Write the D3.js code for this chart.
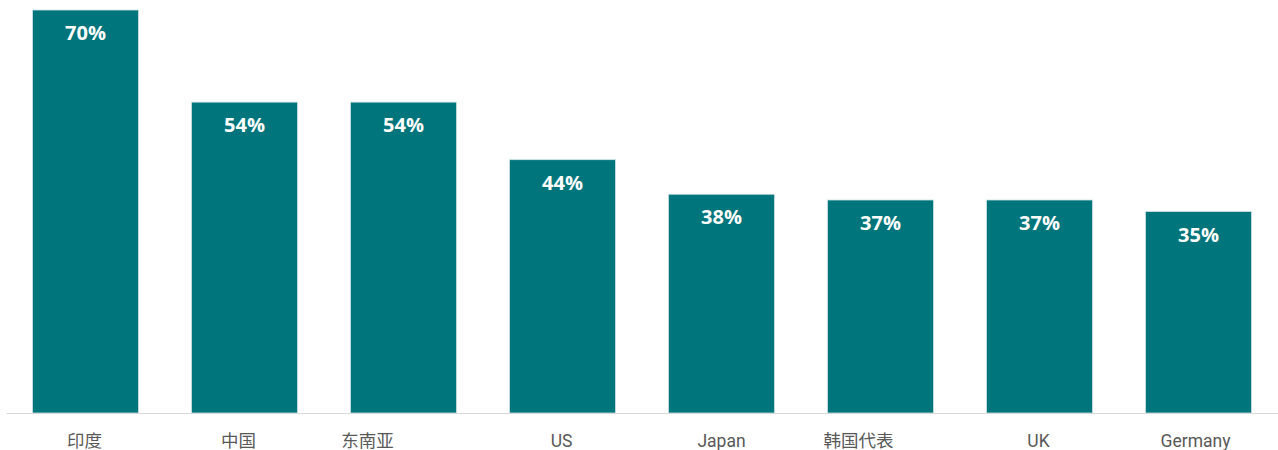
<!DOCTYPE html>
<html>
<head>
<meta charset="utf-8">
<script src="https://cdn.jsdelivr.net/npm/d3@7"></script>
<style>
    html, body { margin: 0; padding: 0; background: #fff; }
    svg { display: block; }
</style>
</head>
<body>
<svg id="svg"></svg>
<script>
// chart data
const categories = ['印度', '中国', '东南亚', 'US', 'Japan', '韩国代表', 'UK', 'Germany'];
const shares = [70, 54, 54, 44, 38, 37, 37, 35];
const valueLabels = ['70%', '54%', '54%', '44%', '38%', '37%', '37%', '35%'];

const width = 1278,
    height = 450;

// the category labels are not quite centred in the original
const labelNudge = { '印度': -1, '中国': -6, '东南亚': -36, 'US': -1, 'Japan': 0, '韩国代表': -22, 'UK': -1, 'Germany': -3 };

const svg = d3.select('#svg')
    .attr('width', width)
    .attr('height', height);

const x = d3.scaleBand()
    .domain(categories)
    .range([6, 1278])
    .paddingInner(1 / 3)
    .paddingOuter(1 / 6);

const y = d3.scaleLinear()
    .domain([0, 70])
    .range([413, 10]);

const rows = categories.map((c, i) => ({ cat: c, value: shares[i], label: valueLabels[i] }));

// bars
svg.append('g')
    .selectAll('rect')
    .data(rows)
    .join('rect')
    .attr('x', d => x(d.cat))
    .attr('y', d => y(d.value))
    .attr('width', x.bandwidth())
    .attr('height', d => y(0) - y(d.value))
    .attr('fill', '#00757b')
    .attr('stroke', '#cfe3e4')
    .attr('stroke-width', 0.8);

// value labels inside bars
svg.append('g')
    .selectAll('text')
    .data(rows)
    .join('text')
    .attr('x', d => x(d.cat) + x.bandwidth() / 2)
    .attr('y', d => y(d.value) + 30)
    .attr('text-anchor', 'middle')
    .attr('fill', '#fff')
    .style('font-family', '"Open Sans", "Noto Sans", sans-serif')
    .style('font-weight', 700)
    .style('font-size', '20px')
    .text(d => d.label);

// x axis
const xAxis = svg.append('g')
    .attr('transform', `translate(0,${y(0)})`)
    .call(d3.axisBottom(x).tickSize(0).tickPadding(0));

xAxis.select('.domain')
    .attr('stroke', '#d9d9d9')
    .attr('stroke-width', 1.2);

xAxis.selectAll('.tick text')
    .attr('y', 34)
    .attr('dy', 0)
    .attr('dx', d => labelNudge[d] || 0)
    .attr('fill', '#595959')
    .style('font-family', 'Roboto, "Noto Sans CJK SC", sans-serif')
    .style('font-size', '17.5px');
</script>
</body>
</html>
